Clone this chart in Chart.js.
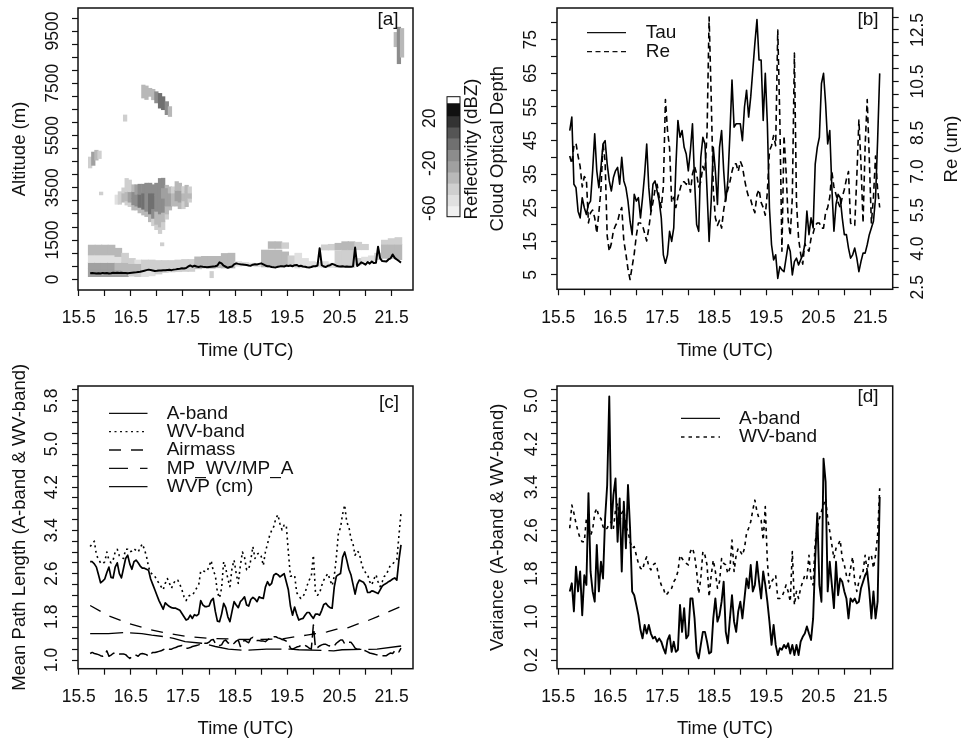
<!DOCTYPE html>
<html>
<head>
<meta charset="utf-8">
<title>Cloud time series</title>
<script src="https://cdn.jsdelivr.net/npm/chart.js@4"></script>
<style>
body { margin: 0; background: #fff; }
canvas { position: absolute; }
</style>
</head>
<body>
<canvas id="panelA" width="440" height="362" style="left:0;top:0"></canvas>
<canvas id="colorBar" width="64" height="155" style="left:420px;top:70px"></canvas>
<canvas id="panelB" width="476" height="362" style="left:487px;top:0"></canvas>
<canvas id="panelC" width="440" height="380" style="left:0;top:360px"></canvas>
<canvas id="panelD" width="476" height="380" style="left:487px;top:360px"></canvas>
<script>
// time of each sample (UTC hours), shared by all line series
const times = [
    15.72,15.76,15.80,15.84,15.88,15.92,15.96,16.00,16.04,16.08,16.12,16.16,16.20,16.24,16.28,16.32,16.36,16.40,16.44,16.48,16.52,16.56,16.60,16.64,16.68,
    16.72,16.76,16.80,16.84,16.88,16.92,16.96,17.00,17.04,17.08,17.12,17.16,17.20,17.24,17.28,17.32,17.36,17.40,17.44,17.48,17.52,17.56,17.60,17.64,17.68,
    17.72,17.76,17.80,17.84,17.88,17.92,17.96,18.00,18.04,18.08,18.12,18.16,18.20,18.24,18.28,18.32,18.36,18.40,18.44,18.48,18.52,18.56,18.60,18.64,18.68,
    18.72,18.76,18.80,18.84,18.88,18.92,18.96,19.00,19.04,19.08,19.12,19.16,19.20,19.24,19.28,19.32,19.36,19.40,19.44,19.48,19.52,19.56,19.60,19.64,19.68,
    19.72,19.76,19.80,19.84,19.88,19.92,19.96,20.00,20.04,20.08,20.12,20.16,20.20,20.24,20.28,20.32,20.36,20.40,20.44,20.48,20.52,20.56,20.60,20.64,20.68,
    20.72,20.76,20.80,20.84,20.88,20.92,20.96,21.00,21.04,21.08,21.12,21.16,21.20,21.24,21.28,21.32,21.36,21.40,21.44,21.48,21.52,21.56,21.60,21.64,21.68
];
const timeTicks = [15.5,16,16.5,17,17.5,18,18.5,19,19.5,20,20.5,21,21.5];
const timeLabels = [15.5,16.5,17.5,18.5,19.5,20.5,21.5];

// [a] ceiling height (m)
const ceiling = [
    230,240,235,220,235,225,245,235,240,225,235,250,240,250,245,250,245,240,235,245,255,260,265,280,290,
    310,330,350,370,355,340,320,325,340,335,350,345,360,365,350,370,380,395,405,420,410,430,490,530,480,
    520,490,470,495,480,475,460,470,480,490,500,530,650,610,520,480,440,470,490,570,610,590,575,570,560,
    550,530,520,560,575,570,590,610,570,530,500,495,470,460,455,480,495,500,490,525,510,530,500,540,550,
    500,520,490,480,460,455,470,500,500,530,1190,540,490,470,520,540,590,560,520,500,490,500,485,490,485,
    480,495,1215,510,570,650,610,560,660,600,680,620,630,1250,800,700,690,680,760,800,950,820,760,700,640
];
const altTicks = [0,500,1000,1500,2000,2500,3000,3500,4000,4500,5000,5500,6000,6500,7000,7500,8000,8500,9000,9500,10000];
const altLabels = [0,1500,3500,5500,7500,9500];

// reflectivity: [time, bottom m, top m, dBZ]
const cloudCells = [
    [15.72,4260,4680,-42],[15.78,4360,4870,-25],[15.84,4560,4940,-30],[15.90,4620,4910,-42],
    [15.93,3230,3340,-42],[16.39,6050,6290,-42],[17.10,1280,1400,-42],[18.05,60,300,-42],
    [16.74,6937,7435,-35],[16.80,6880,7400,-35],[16.87,7000,7310,-35],[16.93,6870,7270,-33],[16.99,6750,7180,-15],
    [17.06,6550,7115,-5],[17.12,6490,6990,-5],[17.19,6300,6800,-15],[17.25,6230,6610,-33],
    [21.58,8900,9450,-33],[21.64,8250,9650,-15],[21.70,8500,9600,-33],
    [16.23,2870,3226,-52],[16.29,2870,3354,-42],
    [16.36,2950,3300,-35],[16.36,3300,3500,-42],
    [16.42,2840,3000,-42],[16.42,3000,3350,-33],[16.42,3350,3860,-42],
    [16.48,2780,2950,-42],[16.48,2950,3350,-22],[16.48,3350,3800,-42],
    [16.55,2650,2850,-35],[16.55,2850,3100,-15],[16.55,3100,3350,-15],[16.55,3350,3620,-35],
    [16.61,2650,2800,-35],[16.61,2800,3250,-12],[16.61,3250,3620,-22],
    [16.67,2540,2750,-35],[16.67,2750,3250,-5],[16.67,3250,3640,-15],
    [16.74,2460,2680,-35],[16.74,2680,3300,-5],[16.74,3300,3640,-15],
    [16.80,2400,2600,-35],[16.80,2600,3350,-12],[16.80,3350,3680,-15],
    [16.87,2200,2500,-35],[16.87,2500,3300,-5],[16.87,3300,3680,-12],
    [16.93,2050,2330,-42],[16.93,2330,2700,-15],[16.93,2700,3300,-5],[16.93,3300,3620,-12],
    [16.99,1900,2100,-42],[16.99,2100,2600,-33],[16.99,2600,3200,-12],[16.99,3200,3680,-15],
    [17.06,1750,2000,-42],[17.06,2000,2500,-33],[17.06,2500,3100,-15],[17.06,3100,3500,-15],[17.06,3500,3860,-12],
    [17.12,1900,2200,-42],[17.12,2200,2560,-33],[17.12,2560,3100,-15],[17.12,3100,3500,-22],[17.12,3500,3870,-12],
    [17.19,2300,2500,-42],[17.19,2500,2800,-33],[17.19,2800,3500,-22],[17.19,3500,3600,-35],
    [17.25,2650,2800,-35],[17.25,2800,3300,-22],[17.25,3300,3540,-35],
    [17.31,2800,3000,-35],[17.31,3000,3300,-33],[17.31,3300,3540,-42],
    [17.38,2800,3000,-35],[17.38,3000,3400,-22],[17.38,3400,3740,-35],
    [17.44,2700,2950,-35],[17.44,2950,3400,-22],[17.44,3400,3680,-35],
    [17.51,2700,3000,-42],[17.51,3000,3300,-33],[17.51,3300,3550,-42],
    [17.57,2780,3050,-35],[17.57,3050,3350,-33],[17.57,3350,3600,-35],
    [17.63,2950,3100,-42],[17.63,3100,3300,-35],[17.63,3300,3540,-42]
];
const layerCells = [
    [15.75,100,400,-25],[15.75,400,640,-26],[15.75,640,930,-50],[15.75,930,1310,-35],
    [15.88,100,400,-25],[15.88,400,640,-26],[15.88,640,930,-50],[15.88,930,1310,-35],
    [16.00,100,400,-25],[16.00,400,640,-26],[16.00,640,930,-50],[16.00,930,1310,-35],
    [16.13,100,400,-25],[16.13,400,640,-26],[16.13,640,930,-50],[16.13,930,1310,-35],
    [16.26,100,350,-25],[16.26,350,640,-30],[16.26,640,870,-50],[16.26,870,1190,-36],
    [16.39,100,300,-28],[16.39,300,640,-32],[16.39,640,1000,-42],
    [16.52,120,300,-40],[16.52,300,600,-35],[16.52,600,800,-48],
    [16.64,100,300,-45],[16.64,300,600,-38],[16.64,600,740,-50],
    [16.77,100,330,-50],[16.77,330,740,-45],
    [16.90,130,360,-50],[16.90,360,740,-42],
    [17.03,200,400,-42],[17.03,400,720,-40],
    [17.15,260,720,-39],[17.28,280,720,-39],[17.41,290,740,-39],[17.54,300,760,-39],[17.66,300,760,-39],
    [17.79,400,860,-36],[17.92,430,880,-34],[18.05,420,880,-34],[18.18,440,880,-34],[18.30,430,990,-34],[18.43,430,1000,-34],
    [18.56,500,680,-55],[18.69,520,650,-55],[18.82,500,620,-55],[18.94,480,600,-55],
    [19.07,470,1120,-34],
    [19.20,470,1120,-34],[19.20,1180,1440,-38],
    [19.33,470,1120,-34],[19.33,1180,1440,-38],
    [19.46,480,1050,-36],[19.46,1180,1400,-40],
    [19.58,500,900,-45],[19.71,430,1000,-50],[19.84,450,800,-52],[19.97,480,680,-55],[20.09,470,650,-55],
    [20.22,450,680,-55],[20.22,1120,1320,-40],
    [20.35,450,620,-55],[20.35,1120,1340,-40],
    [20.48,450,1100,-42],[20.48,1130,1380,-38],
    [20.61,470,1130,-40],[20.61,1130,1440,-36],
    [20.73,450,1130,-42],[20.73,1130,1440,-36],
    [20.86,550,800,-48],[20.86,1130,1420,-40],
    [20.99,680,850,-50],[20.99,1130,1340,-42],
    [21.12,700,900,-50],[21.24,750,1000,-45],
    [21.37,800,1340,-36],[21.37,1340,1500,-42],
    [21.50,800,1340,-36],[21.50,1340,1560,-42],
    [21.63,750,1340,-36],[21.63,1340,1600,-45]
];

// colour scale of the reflectivity
const dbzEdges = [-68,-58,-48,-38,-28,-18,-8,2,12,22,33];
const dbzGrays = ["#f0f0f0","#e0e0e0","#cfcfcf","#b8b8b8","#a0a0a0","#8c8c8c","#707070","#555555","#333333","#111111"];
const dbzTicks = [-60,-20,20];

// [b]
const tau = [
    48,52,32,31,24,22,28,25,23,26,27,36,47,36,31,37,44,45,38,33,30,34,36,37,32,
    40,33,31,27,21,17,29,27,28,22,28,35,44,31,24,32,33,30,27,22,11,8.5,11,18,15,
    19,37,51,46,48,43,41,36,42,50,33,20,18,40,46,44,30,15,27,43,36,26,43,48,36,
    27,33,47,63,49,50,50,50,45,55,60,52,58,66,74,81,69,69,51,65,50,25,14,9.5,11,
    4,7.5,6.5,6,10,14,12,5,9,10,8,9.5,11,14,24,17,22,19,38,43,46,62,65,56,44,
    48,31,18,26,29,28,22,17,17,13,10,11,13,10,6,9,11.5,11.5,14,17,19,21,28,45,65
];
const re = [
    7.6,7.3,8.0,8.1,7.6,7.2,6.4,6.8,6.7,5.0,5.4,5.5,5.2,4.6,5.4,6.3,8.1,7.4,4.5,3.9,4.2,4.7,4.9,5.05,5.4,
    5.6,4.3,3.8,3.2,2.8,3.3,3.8,4.5,5.0,5.0,4.9,4.6,4.3,4.8,5.4,5.8,6.3,6.5,6.0,5.6,6.4,9.8,8.6,7.9,5.8,
    6.0,5.6,6.0,6.3,6.6,6.6,6.5,6.7,6.2,6.9,7.2,6.9,6.4,6.6,7.2,7.0,8.5,13.0,9.9,6.3,5.2,4.9,5.1,4.8,5.5,
    6.0,6.3,6.6,7.0,7.3,7.3,7.0,7.4,7.2,6.7,6.3,6.0,5.9,5.6,5.4,6.1,6.3,5.8,5.6,5.3,6.2,7.8,8.0,8.4,8.0,
    12.5,9.0,3.9,8.4,7.0,5.1,4.5,6.0,11.6,5.8,4.4,3.8,3.4,4.2,4.0,3.9,4.4,4.6,4.9,5.0,5.0,4.8,4.8,5.4,5.6,
    6.0,7.0,6.4,6.1,5.8,5.6,6.0,6.3,6.7,7.0,5.0,4.9,4.9,6.8,9.0,7.3,5.0,8.0,9.8,7.5,5.0,6.0,7.6,6.3,5.6
];
const tauTicks = [5,10,15,20,25,30,35,40,45,50,55,60,65,70,75,80];
const tauLabels = [5,15,25,35,45,55,65,75];
const reTicks = [2.5,3,3.5,4,4.5,5,5.5,6,6.5,7,7.5,8,8.5,9,9.5,10,10.5,11,11.5,12,12.5,13];
const reLabels = [2.5,4,5.5,7,8.5,10.5,12.5];

// [c]
const pathA = [
    2.82,2.82,2.78,2.72,2.58,2.43,2.46,2.50,2.62,2.72,2.53,2.52,2.72,2.80,2.60,2.52,2.70,2.88,2.94,2.78,2.68,2.82,2.85,2.80,2.74,
    2.70,2.70,2.68,2.66,2.50,2.40,2.30,2.20,2.10,2.02,1.94,2.06,2.02,1.99,1.97,1.96,1.96,1.94,1.92,1.86,1.80,1.74,1.76,1.83,1.77,
    1.84,1.82,1.85,2.10,2.02,1.99,1.99,2.00,2.10,2.14,1.90,1.72,1.71,1.85,2.05,1.97,1.80,1.71,1.90,2.08,2.02,1.97,2.08,2.12,2.17,
    2.02,2.00,2.12,2.16,2.13,2.08,2.17,2.15,2.14,2.35,2.45,2.38,2.42,2.57,2.60,2.58,2.54,2.57,2.60,2.45,2.30,2.00,1.83,1.98,1.85,
    1.74,1.76,1.77,1.83,1.88,1.88,1.82,1.77,1.85,1.85,1.83,1.92,2.03,2.05,2.00,1.97,1.96,2.35,2.55,2.58,2.60,2.90,3.00,2.85,2.68,
    2.58,2.40,2.22,2.40,2.48,2.46,2.44,2.38,2.25,2.25,2.28,2.27,2.25,2.23,2.30,2.37,2.40,2.42,2.45,2.47,2.50,2.52,2.48,2.85,3.13
];
const pathWv = [
    3.10,3.15,3.20,2.95,2.86,2.80,2.78,2.82,3.00,2.85,2.80,2.85,3.00,3.05,2.93,2.90,2.88,3.05,3.05,3.00,3.02,3.06,3.03,3.00,3.08,
    3.15,3.05,2.92,2.72,2.62,2.58,2.55,2.48,2.42,2.36,2.30,2.42,2.51,2.42,2.33,2.42,2.48,2.48,2.40,2.30,2.17,2.10,2.18,2.20,2.20,
    2.26,2.33,2.38,2.65,2.65,2.64,2.64,2.74,2.84,2.65,2.57,2.25,2.15,2.33,2.82,2.70,2.50,2.36,2.70,2.85,2.60,2.42,2.75,3.00,2.90,
    2.67,2.68,2.85,3.10,2.88,2.96,2.98,2.92,2.75,3.00,3.15,3.30,3.40,3.47,3.62,3.69,3.52,3.41,3.50,3.50,3.00,2.55,2.56,2.57,2.25,
    2.18,2.14,2.18,2.24,2.38,2.48,2.55,2.94,2.25,2.20,2.24,2.38,2.48,2.55,2.60,2.48,2.38,2.55,2.90,3.35,3.45,3.70,3.87,3.55,3.47,
    3.25,3.15,2.94,3.02,2.98,2.80,2.67,2.62,2.58,2.45,2.39,2.50,2.58,2.45,2.36,2.45,2.55,2.58,2.68,2.76,2.78,2.82,2.86,3.30,3.72
];
const pathRatio = [
    1.12,1.14,1.12,1.11,1.10,1.08,1.07,1.09,1.17,1.07,1.09,1.12,1.14,1.12,1.11,1.11,1.11,1.10,1.06,1.03,1.06,1.09,1.09,1.07,1.11,
    1.12,1.11,1.10,1.07,1.11,1.14,1.14,1.15,1.16,1.17,1.19,1.21,1.22,1.20,1.20,1.22,1.23,1.25,1.26,1.27,1.25,1.22,1.22,1.23,1.25,
    1.26,1.27,1.28,1.30,1.32,1.31,1.31,1.33,1.37,1.38,1.31,1.30,1.27,1.28,1.35,1.37,1.32,1.30,1.28,1.31,1.35,1.37,1.25,1.32,1.37,
    1.34,1.32,1.40,1.42,1.37,1.36,1.36,1.35,1.35,1.34,1.37,1.40,1.40,1.43,1.43,1.41,1.40,1.38,1.37,1.35,1.31,1.22,1.20,1.22,1.24,
    1.25,1.27,1.29,1.27,1.25,1.22,1.20,1.65,1.22,1.23,1.26,1.28,1.29,1.29,1.27,1.26,1.25,1.26,1.31,1.34,1.37,1.37,1.30,1.31,1.33,
    1.33,1.28,1.22,1.20,1.20,1.18,1.18,1.17,1.15,1.13,1.12,1.11,1.10,1.09,1.09,1.08,1.08,1.08,1.11,1.13,1.12,1.17,1.18,1.15,1.22
];
const airmassTimes = [15.72,16.07,16.45,16.84,17.22,17.62,18.02,18.69,19.00,19.40,19.65,19.87,20.06,20.26,20.45,20.67,20.83,21.02,21.22,21.41,21.67];
const airmass = [2.01,1.82,1.68,1.57,1.49,1.43,1.40,1.38,1.38,1.39,1.43,1.46,1.49,1.52,1.57,1.60,1.66,1.72,1.80,1.88,1.99];
const wvpTimes = [15.72,16.07,16.39,16.71,16.90,17.16,17.32,17.54,17.86,18.12,18.37,18.66,19.10,19.56,19.72,20.39,20.55,21.22,21.69];
const wvp = [1.49,1.49,1.51,1.49,1.46,1.43,1.40,1.34,1.31,1.25,1.20,1.18,1.20,1.20,1.19,1.17,1.19,1.20,1.26];
const pathTicks = [1.0,1.2,1.4,1.6,1.8,2.0,2.2,2.4,2.6,2.8,3.0,3.2,3.4,3.6,3.8,4.0,4.2,4.4,4.6,4.8,5.0,5.2,5.4,5.6,5.8,6.0];
const pathLabels = [1.0,1.8,2.6,3.4,4.2,5.0,5.8];

// [d]
const varA = [
    1.47,1.62,1.10,1.93,1.47,1.84,1.03,1.77,1.59,3.29,1.84,1.47,1.28,2.33,1.47,2.02,1.71,2.82,3.44,5.08,2.64,3.26,3.56,2.39,3.19,
    1.84,3.13,2.27,3.44,2.64,1.47,1.40,1.22,1.03,0.76,0.60,0.85,0.69,0.85,0.69,0.60,0.63,0.54,0.60,0.54,0.42,0.32,0.57,0.66,0.35,
    0.54,0.35,0.39,1.22,0.72,1.16,0.60,0.66,1.34,1.34,0.97,0.35,0.23,0.48,0.72,0.72,0.54,0.32,0.35,0.97,1.34,0.91,1.03,1.28,1.65,
    0.72,0.51,0.97,1.40,0.91,0.72,1.10,1.28,0.97,1.34,1.71,1.53,1.96,1.47,1.59,2.02,1.65,1.34,1.84,1.59,1.28,0.91,0.48,0.85,0.48,
    0.29,0.42,0.39,0.48,0.42,0.51,0.32,0.48,0.29,0.48,0.29,0.54,0.63,0.69,0.82,0.69,0.57,0.97,2.08,2.92,1.59,1.28,3.93,3.50,1.47,
    2.02,1.59,1.16,2.02,1.40,1.71,1.65,1.47,1.34,0.97,1.34,1.28,1.34,1.25,1.28,1.53,1.65,1.77,1.84,1.47,0.97,1.47,0.97,1.28,3.22
];
const varWv = [
    2.64,3.07,2.92,2.73,2.58,2.45,2.39,2.39,2.82,2.70,2.51,2.61,2.92,3.01,2.85,2.82,2.67,2.61,2.64,2.73,2.76,2.64,2.98,3.10,2.76,
    2.92,2.98,2.67,2.58,2.39,2.27,2.30,2.14,1.99,1.90,1.87,2.02,2.11,1.93,1.87,1.96,1.99,1.90,1.71,1.59,1.53,1.40,1.43,1.50,1.53,
    1.65,1.71,1.84,2.14,2.08,2.02,1.99,1.96,2.21,2.27,2.14,1.84,1.43,1.71,2.21,2.14,1.96,1.37,1.77,2.05,1.84,1.53,1.65,2.08,1.99,
    1.96,1.80,1.90,2.42,1.84,2.14,2.27,2.21,2.14,2.27,2.55,2.64,2.76,2.98,3.16,2.95,2.82,2.79,2.42,3.04,2.02,1.53,1.65,1.71,1.77,
    1.34,1.34,1.37,1.47,1.59,1.47,1.28,2.21,1.22,1.47,1.34,1.53,1.65,1.77,1.71,2.14,1.71,1.59,2.39,2.64,2.82,2.95,3.07,3.19,2.82,
    2.58,2.33,2.08,2.27,2.33,2.42,2.08,1.96,1.77,1.65,1.90,2.11,1.65,1.47,1.65,1.80,1.84,2.14,1.84,2.14,2.14,1.90,2.14,2.51,3.38
];
const varTicks = [0.2,0.4,0.6,0.8,1.0,1.2,1.4,1.6,1.8,2.0,2.2,2.4,2.6,2.8,3.0,3.2,3.4,3.6,3.8,4.0,4.2,4.4,4.6,4.8,5.0,5.2];
const varLabels = [0.2,1.0,1.8,2.6,3.4,4.2,5.0];

Chart.defaults.font.family = '"Liberation Sans", Arial, sans-serif';
Chart.defaults.color = "#111";
Chart.defaults.animation = false;
Chart.defaults.responsive = false;
Chart.defaults.devicePixelRatio = 1;
Chart.defaults.plugins.legend.display = false;
Chart.defaults.plugins.tooltip.enabled = false;

const tickFont = { size: 17.5 };
const labelFont = { size: 18.5, lineHeight: 1.2 };

function series(xs, ys) {
    return xs.map((x, i) => ({ x: x, y: ys[i] }));
}

function lineSet(xs, ys, width, dash, yAxisID) {
    return {
        type: "line",
        data: series(xs, ys),
        borderColor: "#000",
        borderWidth: width,
        borderDash: dash,
        borderJoinStyle: "round",
        pointRadius: 0,
        tension: 0,
        yAxisID: yAxisID || "y",
        order: 0
    };
}

function grayFor(dbz) {
    for (let i = 0; i < dbzGrays.length; i++) {
        if (dbz < dbzEdges[i + 1]) return dbzGrays[i];
    }
    return "#fff";
}

function cellSet(cells, thickness) {
    return {
        type: "bar",
        data: cells.map(c => ({ x: c[0], y: [c[1], c[2]] })),
        backgroundColor: cells.map(c => grayFor(c[3])),
        borderWidth: 0,
        borderSkipped: false,
        barThickness: thickness,
        grouped: false,
        order: 1
    };
}

// the chart area is placed by hand, so no margin for overhanging tick labels
function clearMargins(s) {
    s.paddingTop = 0;
    s.paddingBottom = 0;
    s.paddingLeft = 0;
    s.paddingRight = 0;
}

function timeAxis(min, max, height) {
    return {
        type: "linear",
        min: min,
        max: max,
        offset: false,
        afterBuildTicks: s => { s.ticks = timeTicks.map(v => ({ value: v })); },
        afterFit: s => { s.height = height; clearMargins(s); },
        ticks: {
            font: tickFont,
            color: "#111",
            padding: 12,
            autoSkip: false,
            maxRotation: 0,
            callback: v => timeLabels.includes(v) ? v.toFixed(1) : ""
        },
        grid: { offset: false, drawOnChartArea: false, tickLength: 6, tickColor: "#111", tickWidth: 1.2 },
        border: { display: false },
        title: { display: true, text: "Time (UTC)", font: labelFont, color: "#111", padding: 0 }
    };
}

function valueAxis(opts) {
    return {
        type: "linear",
        position: opts.position || "left",
        min: opts.min,
        max: opts.max,
        afterBuildTicks: s => { s.ticks = opts.ticks.map(v => ({ value: v })); },
        afterFit: s => { s.width = opts.width; clearMargins(s); },
        ticks: {
            font: tickFont,
            color: "#111",
            padding: opts.padding,
            autoSkip: false,
            minRotation: 90,
            maxRotation: 90,
            crossAlign: "center",
            callback: v => opts.labels.includes(v) ? v.toFixed(opts.digits) : ""
        },
        grid: { drawOnChartArea: false, tickLength: 6, tickColor: "#111", tickWidth: 1.2 },
        border: { display: false },
        title: opts.title ? { display: true, text: opts.title, font: labelFont, color: "#111", padding: { top: opts.titlePad || 0, bottom: 0 } } : { display: false }
    };
}

// frame, panel tag, hand placed legend and the upward reading right hand titles
const panelExtras = {
    id: "panelExtras",
    afterDraw(chart, args, o) {
        const ctx = chart.ctx;
        const a = chart.chartArea;
        ctx.save();
        ctx.strokeStyle = "#111";
        ctx.lineWidth = o.frame || 1.5;
        ctx.strokeRect(a.left, a.top, a.right - a.left, a.bottom - a.top);
        ctx.fillStyle = "#111";
        ctx.font = '19px "Liberation Sans", Arial, sans-serif';
        ctx.textBaseline = "middle";
        if (o.tag) {
            ctx.textAlign = "center";
            ctx.fillText(o.tag[0], o.tag[1], o.tag[2]);
        }
        ctx.textAlign = "left";
        (o.legend || []).forEach(item => {
            ctx.beginPath();
            ctx.setLineDash(item.dash);
            ctx.lineWidth = 1.3;
            ctx.moveTo(o.legendX[0], item.y);
            ctx.lineTo(o.legendX[1], item.y);
            ctx.stroke();
            ctx.setLineDash([]);
            ctx.fillText(item.text, o.legendX[2], item.y);
        });
        if (o.sideTitle) {
            ctx.translate(o.sideTitle[1], o.sideTitle[2]);
            ctx.rotate(-Math.PI / 2);
            ctx.textAlign = "center";
            ctx.font = '18.5px "Liberation Sans", Arial, sans-serif';
            ctx.fillText(o.sideTitle[0], 0, 0);
        }
        ctx.restore();
    }
};

new Chart(document.getElementById("panelA"), {
    type: "line",
    data: {
        datasets: [
            lineSet(times, ceiling, 2),
            cellSet(cloudCells, 3.6),
            cellSet(layerCells, 7)
        ]
    },
    options: {
        layout: { padding: { top: 8, right: 27 } },
        scales: {
            x: timeAxis(15.487, 21.91, 72),
            y: valueAxis({ min: -409.5, max: 10383, ticks: altTicks, labels: altLabels, digits: 0, width: 78, padding: -0.5, title: "Altitude (m)", titlePad: 8.5 })
        },
        plugins: { panelExtras: { tag: ["[a]", 388, 20] } }
    },
    plugins: [panelExtras]
});

new Chart(document.getElementById("colorBar"), {
    type: "bar",
    data: {
        datasets: [{
            data: dbzGrays.map((c, i) => ({ x: 0, y: [dbzEdges[i], dbzEdges[i + 1]] })),
            backgroundColor: dbzGrays,
            borderWidth: 0,
            borderSkipped: false,
            barThickness: 13,
            grouped: false
        }]
    },
    options: {
        layout: { padding: { top: 26.7, right: 24, bottom: 8.3 } },
        scales: {
            x: { type: "linear", min: -1, max: 1, display: false, offset: false },
            y: {
                min: -67.5,
                max: 39.2,
                afterBuildTicks: s => { s.ticks = dbzTicks.map(v => ({ value: v })); },
                afterFit: s => { s.width = 27; clearMargins(s); },
                ticks: { font: tickFont, color: "#111", padding: 4.4, autoSkip: false, minRotation: 90, maxRotation: 90, crossAlign: "center" },
                grid: { display: false, drawTicks: false },
                border: { display: false }
            }
        },
        plugins: { panelExtras: { frame: 1, sideTitle: ["Reflectivity (dBZ)", 52, 79] } }
    },
    plugins: [panelExtras]
});

new Chart(document.getElementById("panelB"), {
    type: "line",
    data: {
        datasets: [
            lineSet(times, tau, 1.6),
            lineSet(times, re, 1.6, [6, 4], "y1")
        ]
    },
    options: {
        layout: { padding: { top: 8 } },
        scales: {
            x: timeAxis(15.475, 21.93, 72.7),
            y: valueAxis({ min: 0.74, max: 84.46, ticks: tauTicks, labels: tauLabels, digits: 0, width: 70, padding: 9.6, title: "Cloud Optical Depth" }),
            y1: valueAxis({ position: "right", min: 2.42, max: 13.355, ticks: reTicks, labels: reLabels, digits: 1, width: 70.3, padding: 2.3 })
        },
        plugins: {
            panelExtras: {
                tag: ["[b]", 381, 20],
                legendX: [100, 139, 158.7],
                legend: [
                    { text: "Tau", y: 32.7, dash: [] },
                    { text: "Re", y: 51.7, dash: [5, 3.5] }
                ],
                sideTitle: ["Re (um)", 464.7, 149]
            }
        }
    },
    plugins: [panelExtras]
});

new Chart(document.getElementById("panelC"), {
    type: "line",
    data: {
        datasets: [
            lineSet(times, pathA, 1.7),
            lineSet(times, pathWv, 1.6, [2, 3.5]),
            lineSet(airmassTimes, airmass, 1.3, [12, 10]),
            lineSet(times, pathRatio, 1.5, [14, 5]),
            lineSet(wvpTimes, wvp, 1.3, [33, 7])
        ]
    },
    options: {
        layout: { padding: { top: 26, right: 27 } },
        scales: {
            x: timeAxis(15.487, 21.91, 71.3),
            y: valueAxis({ min: 0.839, max: 6.074, ticks: pathTicks, labels: pathLabels, digits: 1, width: 78, padding: 7.8, title: "Mean Path Length (A-band & WV-band)", titlePad: 8.5 })
        },
        plugins: {
            panelExtras: {
                tag: ["[c]", 389, 42.7],
                legendX: [109, 147.5, 166.7],
                legend: [
                    { text: "A-band", y: 53.3, dash: [] },
                    { text: "WV-band", y: 71.7, dash: [2, 3.5] },
                    { text: "Airmass", y: 90, dash: [12, 10] },
                    { text: "MP_WV/MP_A", y: 108.3, dash: [19, 12] },
                    { text: "WVP (cm)", y: 126.7, dash: [] }
                ]
            }
        }
    },
    plugins: [panelExtras]
});

new Chart(document.getElementById("panelD"), {
    type: "line",
    data: {
        datasets: [
            lineSet(times, varA, 1.9),
            lineSet(times, varWv, 1.6, [3.5, 4])
        ]
    },
    options: {
        layout: { padding: { top: 26, right: 70.3 } },
        scales: {
            x: timeAxis(15.475, 21.93, 71.3),
            y: valueAxis({ min: 0.039, max: 5.274, ticks: varTicks, labels: varLabels, digits: 1, width: 70, padding: 7, title: "Variance (A-band & WV-band)" })
        },
        plugins: {
            panelExtras: {
                tag: ["[d]", 381, 37],
                legendX: [194, 233, 252],
                legend: [
                    { text: "A-band", y: 58.3, dash: [] },
                    { text: "WV-band", y: 77, dash: [3.5, 4] }
                ]
            }
        }
    },
    plugins: [panelExtras]
});
</script>
</body>
</html>
